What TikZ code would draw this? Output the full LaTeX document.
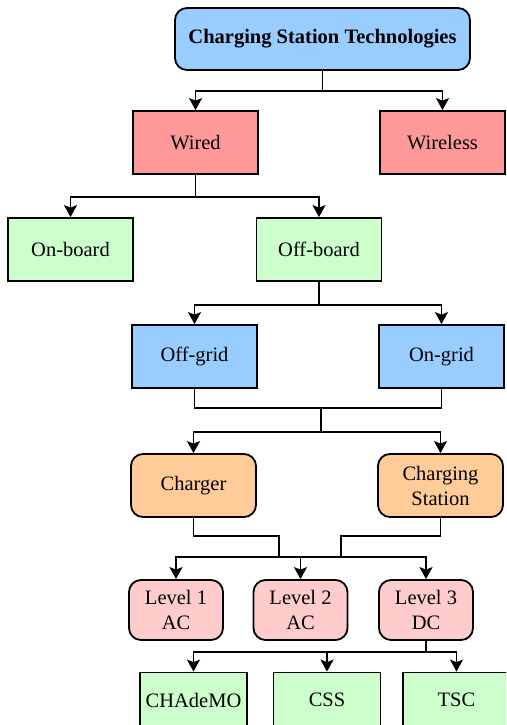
\documentclass[tikz,border=0pt]{standalone}
\usepackage{fontspec}
\setmainfont{Liberation Serif}
\usepackage{tikz}
\usetikzlibrary{arrows.meta}
\definecolor{topblue}{HTML}{99CCFF}
\definecolor{wiredred}{HTML}{FF9999}
\definecolor{boardgreen}{HTML}{CCFFCC}
\definecolor{chargeorange}{HTML}{FFCC99}
\definecolor{levelpink}{HTML}{FFCCCC}

\begin{document}
\begin{tikzpicture}[x=1pt,y=-1pt,
        font=\fontsize{20.5}{25}\selectfont,
        box/.style={draw,line width=1.8pt,minimum width=125pt,minimum height=63pt,inner sep=0pt,align=center},
        rbox/.style={box,rounded corners=12pt},
        arr/.style={line width=1.8pt,-{Stealth[length=12pt,width=13pt,inset=2.5pt]}},
        ln/.style={line width=1.8pt}]
        \clip (0,0) rectangle (506,725);
        % Boxes
        \node[rbox,fill=topblue,minimum width=295pt,minimum height=62pt] (cst) at (322.5,39) {\textbf{Charging Station Technologies}};
        \node[box,fill=wiredred] (wired) at (195.5,142.5) {Wired};
        \node[box,fill=wiredred] (wireless) at (442.5,142.5) {Wireless};
        \node[box,fill=boardgreen] (onboard) at (70.5,249.5) {On-board};
        \node[box,fill=boardgreen] (offboard) at (319,249.5) {Off-board};
        \node[box,fill=topblue] (offgrid) at (194.5,356.5) {Off-grid};
        \node[box,fill=topblue] (ongrid) at (441.5,356.5) {On-grid};
        \node[rbox,fill=chargeorange] (charger) at (193.5,485.5) {Charger};
        \node[rbox,fill=chargeorange] (station) at (440.5,485.5) {Charging\\Station};
        \node[rbox,fill=levelpink,minimum width=94pt,minimum height=60pt] (level1) at (176,610) {Level 1\\AC};
        \node[rbox,fill=levelpink,minimum width=94pt,minimum height=60pt] (level2) at (300.5,610) {Level 2\\AC};
        \node[rbox,fill=levelpink,minimum width=94pt,minimum height=60pt] (level3) at (426,610) {Level 3\\DC};
        \node[box,fill=boardgreen,minimum width=107pt,minimum height=55pt] (chademo) at (193.5,700) {CHAdeMO};
        \node[box,fill=boardgreen,minimum width=107pt,minimum height=55pt] (css) at (327,700) {CSS};
        \node[box,fill=boardgreen,minimum width=107pt,minimum height=55pt] (tsc) at (456.5,700) {TSC};
        % Junctions
        \coordinate (m1) at (321,408);
        \coordinate (m2) at (321,432);
        \coordinate (ca) at (279,536);
        \coordinate (cb) at (279,557);
        \coordinate (sa) at (341,536);
        \coordinate (sb) at (341,557);
        \coordinate (lv) at (426,652);
        % Connectors
        \draw[arr] (cst.south) -- ++(0,20) -| (wired.north);
        \draw[arr] (cst.south) -- ++(0,20) -| (wireless.north);
        \draw[arr] (wired.south) -- ++(0,22) -| (onboard.north);
        \draw[arr] (wired.south) -- ++(0,22) -| (offboard.north);
        \draw[arr] (offboard.south) -- ++(0,23) -| (offgrid.north);
        \draw[arr] (offboard.south) -- ++(0,23) -| (ongrid.north);
        \draw[ln] (offgrid.south) |- (m1) -| (ongrid.south);
        \draw[ln] (m1) -- (m2);
        \draw[arr] (m2) -| (charger.north);
        \draw[arr] (m2) -| (station.north);
        \draw[ln] (charger.south) |- (ca) -- (cb);
        \draw[ln] (station.south) |- (sa) -- (sb);
        \draw[arr] (cb) -| (level1.north);
        \draw[arr] (sb) -| (level3.north);
        \draw[ln] (cb) -- (sb);
        \draw[arr] (level2.north |- cb) -- (level2.north);
        \draw[ln] (level3.south) -- (lv);
        \draw[arr] (lv) -| (chademo.north);
        \draw[arr] (lv) -| (css.north);
        \draw[arr] (lv) -| (tsc.north);
\end{tikzpicture}
\end{document}
